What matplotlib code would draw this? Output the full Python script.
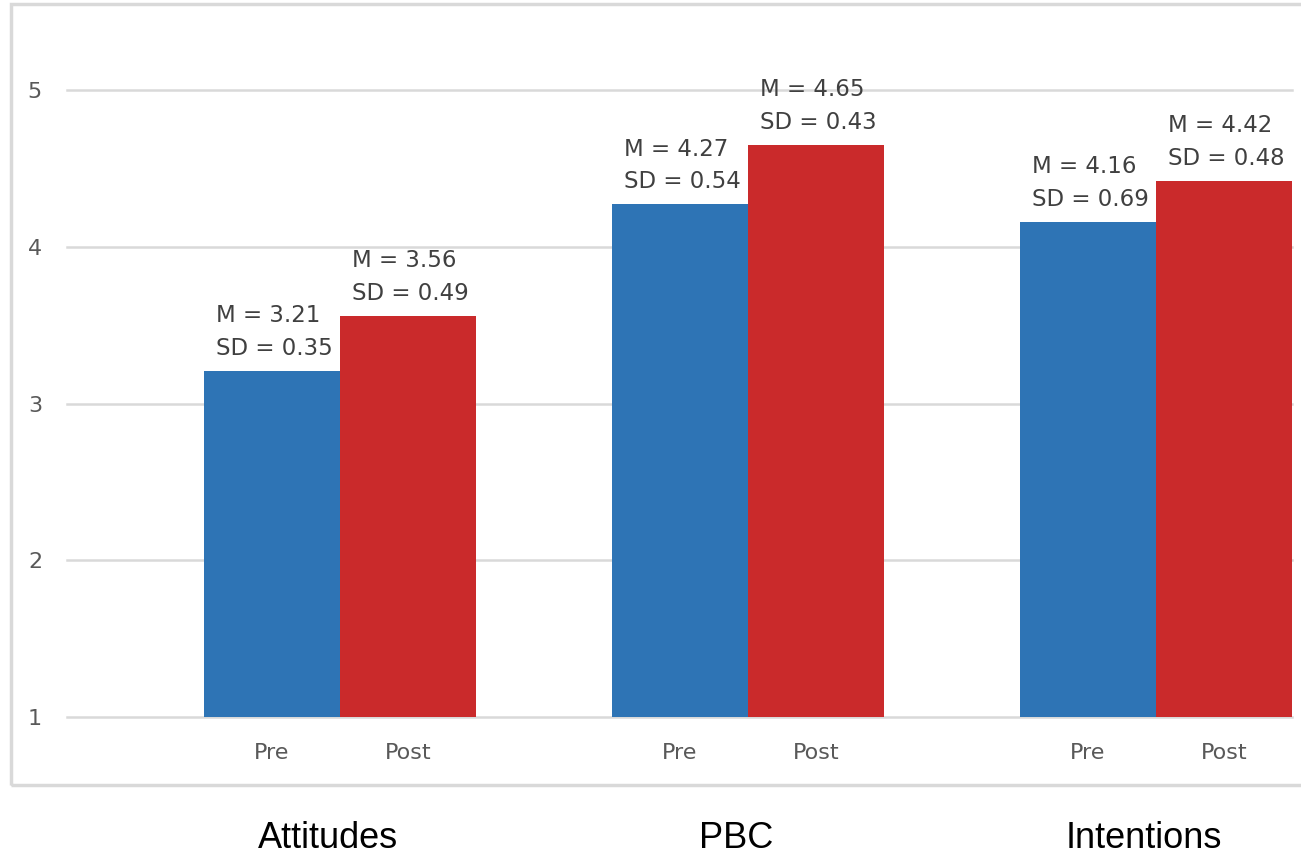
import matplotlib.pyplot as plt
import numpy as np
from matplotlib.patches import Rectangle

# data
categories = ['Attitudes', 'PBC', 'Intentions']
pre_means = [3.21, 4.27, 4.16]
post_means = [3.56, 4.65, 4.42]
pre_sd = [0.35, 0.54, 0.69]
post_sd = [0.49, 0.43, 0.48]
phase_labels = ['Pre', 'Post']

blue = '#2E74B5'
red = '#CA2A2B'
grid_col = '#D9D9D9'
txt_col = '#404040'

W, H = 1301, 857
fig = plt.figure(figsize=(W / 100, H / 100), dpi=100)

# outer chart frame (runs off the right edge like the source)
fig.patches.append(Rectangle((11 / W, 1 - 785 / H), 1.1, (785 - 4) / H,
                             transform=fig.transFigure, fill=False,
                             edgecolor=grid_col, linewidth=2.5, zorder=0))

# axes: y=1 at px 717, y=5 at px 90
ppu = (717 - 90) / 4
ymax = 5.4
ax_left, ax_right = 67, 1292
ax_top = 717 - (ymax - 1) * ppu
ax = fig.add_axes([ax_left / W, 1 - 717 / H, (ax_right - ax_left) / W, (717 - ax_top) / H])

bw = 1 / 3
x = np.arange(len(categories))
ax.bar(x - bw / 2, np.array(pre_means) - 1, bw, bottom=1, color=blue, zorder=3)
ax.bar(x + bw / 2, np.array(post_means) - 1, bw, bottom=1, color=red, zorder=3)

ax.set_xlim(-273 / 408, 2 + 136 / 408)
ax.set_ylim(1, ymax)
ax.set_yticks([1, 2, 3, 4, 5])
for y in [1, 2, 3, 4, 5]:
    ax.axhline(y, color=grid_col, linewidth=1.8, zorder=1, clip_on=False)
for s in ax.spines.values():
    s.set_visible(False)
ax.tick_params(axis='both', length=0, labelsize=16, labelcolor='#595959')
ax.tick_params(axis='y', pad=18)
ax.tick_params(axis='x', pad=19)
ax.set_xticks(np.concatenate([x - bw / 2, x + bw / 2]))
ax.set_xticklabels([phase_labels[0]] * 3 + [phase_labels[1]] * 3)

# M / SD annotations, left aligned near the bar's left edge
for i in range(len(categories)):
    for off, m, sd in [(-bw, pre_means[i], pre_sd[i]), (0, post_means[i], post_sd[i])]:
        ax.text(x[i] + off + 0.03, m + 0.07, f'M = {m:.2f}\nSD = {sd:.2f}',
                ha='left', va='bottom', fontsize=16.5, color=txt_col,
                linespacing=1.55, zorder=4)

# category names below the frame
for i, c in enumerate(categories):
    fig.text((ax_left + (x[i] - (-273 / 408)) * 408 - 12) / W, 1 - 838 / H, c,
             ha='center', va='center', fontsize=26, family='Liberation Sans', color='black')

fig.savefig('out.png', dpi=100)
